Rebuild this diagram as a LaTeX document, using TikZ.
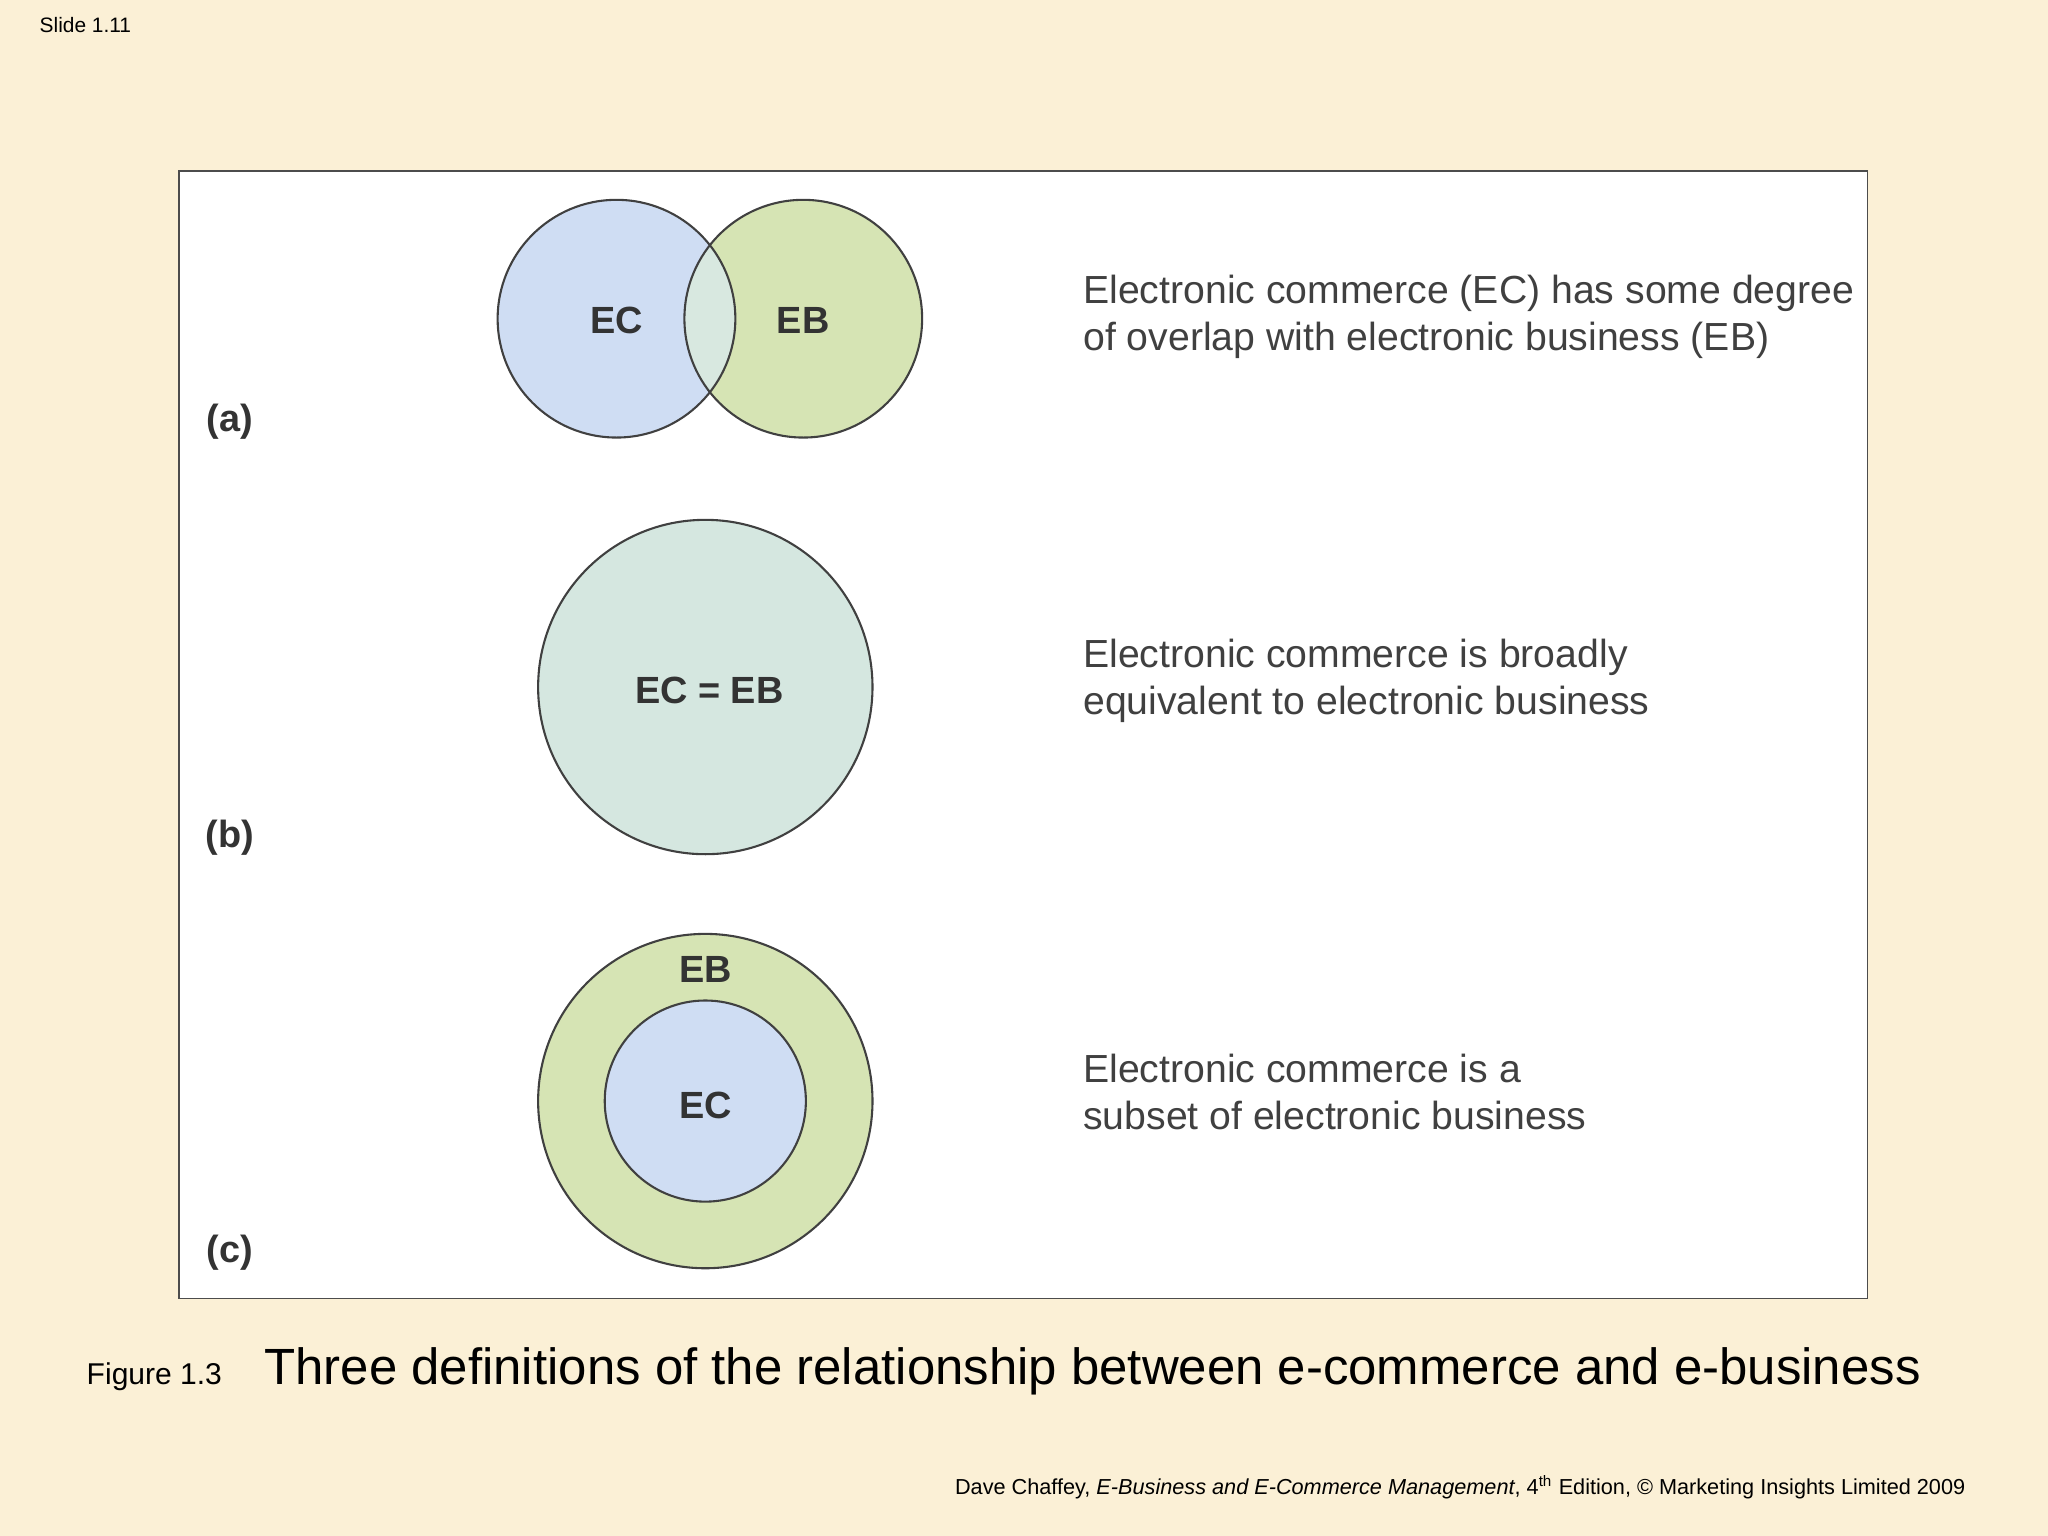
\documentclass[tikz,border=0pt]{standalone}
\usepackage{fontspec}
\setmainfont{Liberation Sans}
\begin{document}
\begin{tikzpicture}[x=0.5pt,y=-0.5pt,
  lab/.style={font=\bfseries\fontsize{14.5}{16}\selectfont,text=black!80},
  desc/.style={anchor=north west,align=left,font=\fontsize{15}{18}\selectfont,text=black!75,inner sep=0},
  ring/.style={draw=black!75,line width=0.8pt}]
\definecolor{bg}{HTML}{FBF0D6}
\definecolor{ecc}{HTML}{CFDDF3}
\definecolor{ebc}{HTML}{D6E4B4}
\definecolor{ovc}{HTML}{D8E8E0}
\definecolor{eqc}{HTML}{D5E7E0}
\fill[bg] (0,0) rectangle (1568,1176);
\useasboundingbox (0,0) rectangle (1568,1176);
\draw[fill=white,draw=black!70,line width=0.5pt] (137,131) rectangle (1430,994);
% (a)
\fill[ecc] (472,244) circle[radius=91];
\fill[ebc] (615,244) circle[radius=91];
\begin{scope}
\clip (472,244) circle[radius=91];
\fill[ovc] (615,244) circle[radius=91];
\end{scope}
\draw[ring] (472,244) circle[radius=91];
\draw[ring] (615,244) circle[radius=91];
\node[lab] (aec) at (472,245) {EC};
\node[lab] (aeb) at (615,245) {EB};
\node[lab] (la) at (176,323) {(a)};
\node[desc] (da) at (829,210) {Electronic commerce (EC) has some degree\\of overlap with electronic business (EB)};
% (b)
\draw[ring,fill=eqc] (540,526) circle[radius=128];
\node[lab] (beq) at (543,529) {EC = EB};
\node[lab] (lb) at (176,641) {(b)};
\node[desc] (db) at (829,489) {Electronic commerce is broadly\\equivalent to electronic business};
% (c)
\draw[ring,fill=ebc] (540,843) circle[radius=128];
\draw[ring,fill=ecc] (540,843) circle[radius=77];
\node[lab] (ceb) at (540,742) {EB};
\node[lab] (cec) at (540,846) {EC};
\node[lab] (lc) at (176,959) {(c)};
\node[desc] (dc) at (829,807) {Electronic commerce is a\\subset of electronic business};
% captions
\node[anchor=west,font=\fontsize{8}{9}\selectfont,inner sep=0] (sl) at (30,19) {Slide 1.11};
\node[anchor=base west,font=\fontsize{11.5}{13}\selectfont,inner sep=0] (fig) at (66,1060) {Figure 1.3};
\node[anchor=base west,font=\fontsize{19.5}{22}\selectfont,inner sep=0] (cap) at (202,1060) {Three definitions of the relationship between e-commerce and e-business};
\node[anchor=base east,font=\fontsize{8.3}{10}\selectfont,inner sep=0] (ft) at (1505,1144) {Dave Chaffey, \textit{E-Business and E-Commerce Management}, 4\textsuperscript{th} Edition, © Marketing Insights Limited 2009};
\end{tikzpicture}
\end{document}
